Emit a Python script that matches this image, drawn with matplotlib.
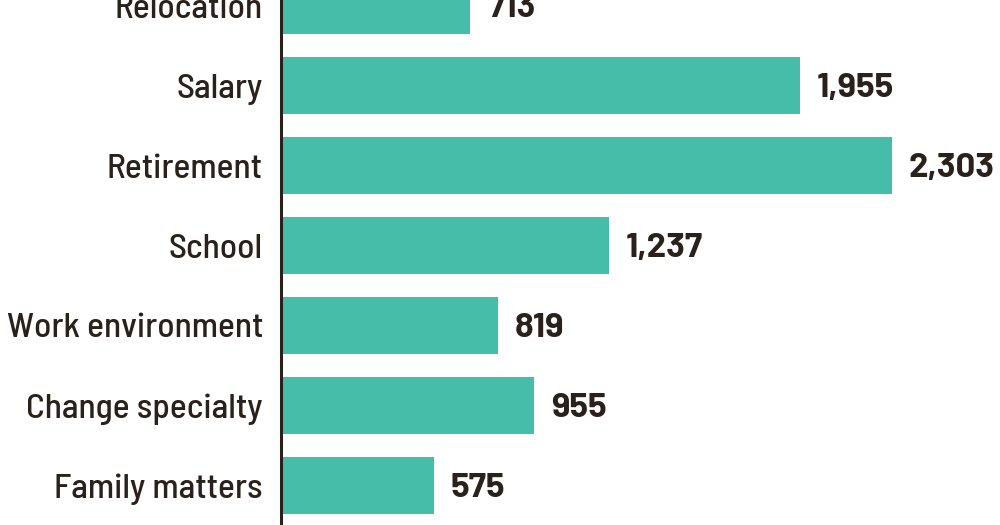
import matplotlib.pyplot as plt
import numpy as np

categories = ["Relocation", "Salary", "Retirement", "School",
              "Work environment", "Change specialty", "Family matters"]
values = [713, 1955, 2303, 1237, 819, 955, 575]

teal = "#45bda8"
ink = "#2b211b"

plt.rcParams['font.family'] = ['Barlow Semi Condensed', 'Barlow Condensed', 'DejaVu Sans']

fig = plt.figure(figsize=(10, 5.25), dpi=100)
ax = fig.add_axes([0.281, 0, 0.719, 1])

y = np.arange(len(categories))
ax.barh(y, values, height=0.71, color=teal, zorder=2)

# 1px = 1/0.2649 units horizontally
ax.set_xlim(0, 718 / 0.2649)
ax.set_ylim(6.494, -0.069)

for yi, v in zip(y, values):
    ax.annotate(f"{v:,}", (v, yi), xytext=(12, -1.5), textcoords="offset points",
                ha="left", va="center", fontsize=25, fontweight="bold",
                family=['Barlow', 'Barlow Semi Condensed', 'DejaVu Sans'],
                color=ink)

ax.set_yticks(y)
ax.set_yticklabels(categories, fontsize=25.5, fontweight="medium", color=ink)
ax.tick_params(axis="y", length=0, pad=13)
ax.set_xticks([])

for s in ["top", "right", "bottom"]:
    ax.spines[s].set_visible(False)
ax.spines["left"].set_linewidth(2.2)
ax.spines["left"].set_color(ink)

fig.savefig("out.png", dpi=100)
